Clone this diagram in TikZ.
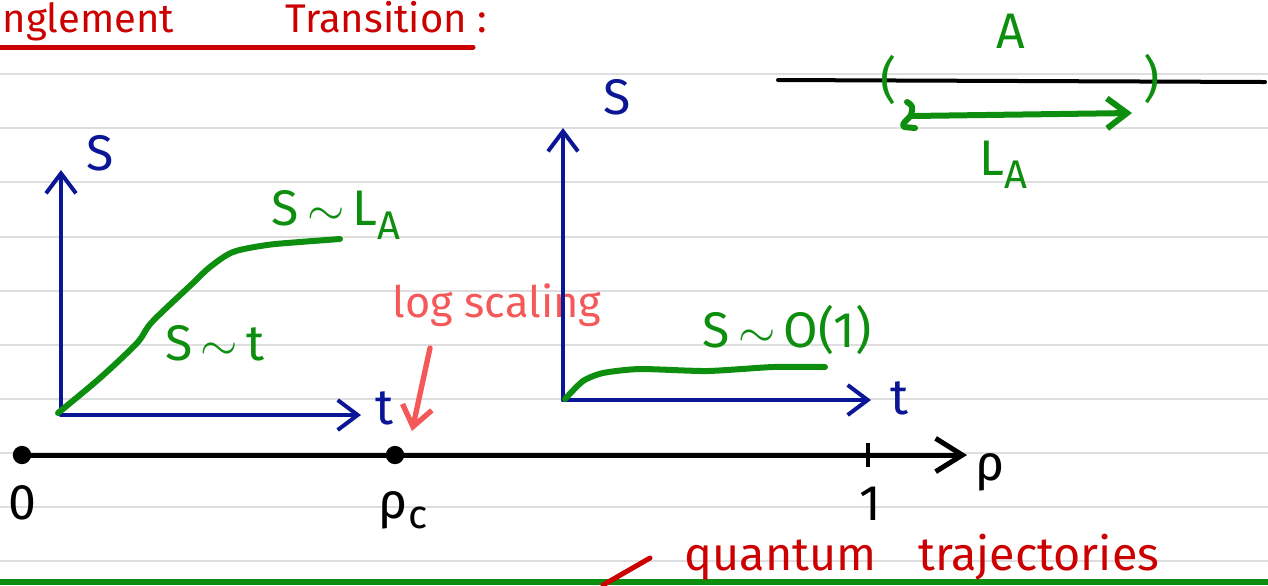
\documentclass[tikz,border=0pt]{standalone}
\usepackage{fontspec}
\setmainfont{Fira Sans}
\usetikzlibrary{arrows.meta}

\definecolor{axisBlue}{RGB}{10,22,150}
\definecolor{inkGreen}{RGB}{14,142,14}
\definecolor{inkRed}{RGB}{204,0,0}
\definecolor{noteRed}{RGB}{244,88,88}
\definecolor{ruleGray}{RGB}{222,222,222}

\begin{document}
\begin{tikzpicture}[x=0.3pt, y=-0.3pt, >={Straight Barb[length=6pt,width=9pt]},
  hand/.style={font=\fontsize{15}{17}\selectfont, inner sep=0pt},
  axis/.style={axisBlue, line width=1.2pt, line cap=round},
  curve/.style={inkGreen, line width=1.8pt, line cap=round, line join=round},
  dot/.style={circle, fill=black, inner sep=0pt, minimum size=5.5pt}]
\useasboundingbox (0,0) rectangle (1268,585);
% ruled paper
\foreach \y in {74,128,182,237,291,345,399,453,507,561}
  \draw[ruleGray, line width=0.8pt] (0,\y) -- (1268,\y);
\draw[inkGreen, line width=1.8pt] (0,582) -- (1268,582);

% heading
\node[hand, inkRed, anchor=base west, font=\fontsize{12}{14}\selectfont] (head1) at (2,32) {nglement};
\node[hand, inkRed, anchor=base west, font=\fontsize{12}{14}\selectfont] (head2) at (285,32) {Transition :};
\draw[inkRed, line width=1.5pt, line cap=round] (0,47) -- (473,47);

% volume law plot
\coordinate (o1) at (61,415);
\coordinate (s1end) at (61,170);
\coordinate (t1end) at (361,415);
\draw[axis,->] (o1) -- (s1end);
\draw[axis,->] (o1) -- (t1end);
\node[hand, axisBlue] (s1) at (100,153) {S};
\node[hand, axisBlue] (t1) at (385,408) {t};
\draw[curve] plot[smooth] coordinates {(58,413) (100,378) (137,343) (152,322) (193,283) (210,267) (233,252) (267,245) (300,242) (340,239)};
\node[hand, inkGreen] (lawLA) at (336,215) {S\,$\sim$\,L\raisebox{-4pt}{\fontsize{12}{13}\selectfont A}};
\node[hand, inkGreen] (lawT) at (215,343) {S\,$\sim$\,t};

% log scaling note
\node[hand, noteRed, font=\fontsize{13}{15}\selectfont] (logtxt) at (497,305) {log scaling};
\coordinate (logtail) at (430,348);
\coordinate (logtip) at (412,431);
\draw[noteRed, line width=1.6pt, line cap=round, ->] (logtail) -- (logtip);

% rho axis
\coordinate (rstart) at (20,455);
\coordinate (rend) at (967,455);
\draw[black, line width=1.5pt, line cap=round, ->, >={Straight Barb[length=8pt,width=10pt]}] (rstart) -- (rend);
\node[dot] (r0) at (22,455) {};
\node[dot] (rc) at (395,455) {};
\coordinate (r1) at (868,455);
\draw[black, line width=1.3pt] (r1) ++(0,-12) -- ++(0,24);
\node[hand] (lab0) at (22,503) {0};
\node[hand] (labrc) at (403,510) {ρ\raisebox{-3pt}{\fontsize{12}{13}\selectfont c}};
\node[hand] (lab1) at (870,504) {1};
\node[hand] (labrho) at (990,472) {ρ};

% area law plot
\coordinate (o2) at (563,400);
\coordinate (s2end) at (563,128);
\coordinate (t2end) at (871,400);
\draw[axis,->] (o2) -- (s2end);
\draw[axis,->] (o2) -- (t2end);
\node[hand, axisBlue] (s2) at (617,97) {S};
\node[hand, axisBlue] (t2) at (900,398) {t};
\draw[curve] plot[smooth, tension=0.4] coordinates {(565,399) (583,381) (603,373) (640,369) (707,371) (773,367) (825,367)};
\node[hand, inkGreen] (lawO) at (787,330) {S\,$\sim$\,O(1)};

% subsystem A
\coordinate (lineL) at (778,80);
\coordinate (lineR) at (1265,82);
\draw[black, line width=1.2pt, line cap=round] (lineL) -- (lineR);
\node[hand, inkGreen] (lparen) at (889,80) {(};
\node[hand, inkGreen] (rparen) at (1152,79) {)};
\node[hand, inkGreen] (labA) at (1011,31) {A};
\coordinate (laStart) at (911,116);
\coordinate (laEnd) at (1132,113);
\draw[curve, ->] (laStart) -- (laEnd);
\draw[curve] (907,102) .. controls (913,106) .. (911,115) .. controls (908,120) and (900,124) .. (904,127) -- (915,128);
\node[hand, inkGreen] (labLA) at (1003,165) {L\raisebox{-4pt}{\fontsize{12}{13}\selectfont A}};

% bottom note
\node[hand, inkRed, font=\fontsize{14}{16}\selectfont] (qt) at (922,557) {quantum\hspace{0.9em}trajectories};
\draw[inkRed, line width=1.5pt, line cap=round] (603,585) -- (650,558);
\end{tikzpicture}
\end{document}
